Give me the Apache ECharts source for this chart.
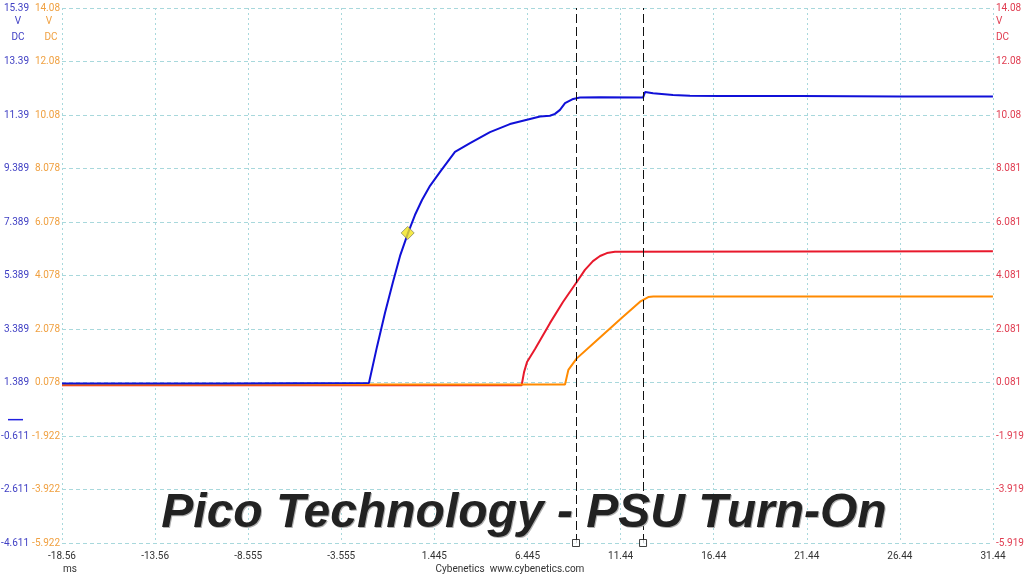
<!DOCTYPE html>
<html><head><meta charset="utf-8">
<script src="https://cdn.jsdelivr.net/npm/echarts@6/dist/echarts.min.js"></script>
<style>html,body{margin:0;padding:0;background:#fff}#c{width:1024px;height:576px}</style>
</head><body><div id="c"></div>
<script>
// Axis extents (ms / V)
const xMin = -18.555;
const blueMin = -4.611;
const orangeMin = -5.922;
const redMin = -5.919;

// Tick labels
const xTicks = ['-18.56','-13.56','-8.555','-3.555','1.445','6.445','11.44','16.44','21.44','26.44','31.44'];
const blueTicks = ['-4.611','-2.611','-0.611','1.389','3.389','5.389','7.389','9.389','11.39','13.39','15.39'];
const orangeTicks = ['-5.922','-3.922','-1.922','0.078','2.078','4.078','6.078','8.078','10.08','12.08','14.08'];
const redTicks = ['-5.919','-3.919','-1.919','0.081','2.081','4.081','6.081','8.081','10.08','12.08','14.08'];

// Channel A (blue), time in ms, volts
const blueT = [-18.555, -10, -2.07, -1.64, -1.21, -0.78, -0.40, 0.03, 0.40, 0.78, 1.21, 1.75, 2.55, 3.36, 4.43, 5.50, 6.58, 7.12, 7.65, 7.92, 8.19, 8.46, 8.90, 9.26, 10.34, 12.65, 12.76, 13.19, 14.26, 15.17, 16.78, 21.08, 26.45, 31.44];
const blueV = [1.35, 1.35, 1.37, 2.72, 3.99, 5.15, 6.12, 6.98, 7.65, 8.21, 8.74, 9.26, 10.01, 10.34, 10.75, 11.05, 11.24, 11.33, 11.36, 11.43, 11.58, 11.83, 11.99, 12.04, 12.05, 12.04, 12.25, 12.20, 12.14, 12.11, 12.10, 12.10, 12.08, 12.08];

// Channel B (orange)
const orangeT = [-18.555, 8.46, 8.64, 9.09, 9.98, 11.50, 12.49, 12.93, 13.20, 31.44];
const orangeV = [0.0, 0.0, 0.55, 0.98, 1.54, 2.49, 3.10, 3.27, 3.29, 3.29];

// Channel C (red)
const redT = [-18.555, 6.13, 6.26, 6.42, 6.85, 7.65, 8.35, 9.09, 9.53, 9.96, 10.34, 10.71, 11.14, 31.44];
const redV = [-0.02, -0.02, 0.47, 0.85, 1.33, 2.30, 3.09, 3.84, 4.29, 4.62, 4.81, 4.92, 4.97, 4.99];

// Marker on blue trace and cursors
const markerT = [0.01];
const markerV = [6.98];
const cursorT = [9.05, 12.65];

const xs = t => +(t - xMin).toFixed(4);
const blueData = blueT.map((t, i) => [xs(t), blueV[i] - blueMin]);
const orangeData = orangeT.map((t, i) => [xs(t), orangeV[i] - orangeMin]);
const redData = redT.map((t, i) => [xs(t), redV[i] - redMin]);
const markerData = markerT.map((t, i) => [xs(t), markerV[i] - blueMin]);
const cursorData = cursorT.map(t => [xs(t), 0]);

const FONT = 'Roboto, "Noto Sans", sans-serif';
const FS = 10;
const gridCol = '#a8d8dc';

const chart = echarts.init(document.getElementById('c'), null, {renderer: 'canvas'});

function yAx(ticks, color, pos, offset, margin, split) {
  return {
    type: 'value', min: 0, max: 20, interval: 2, position: pos, offset: offset,
    axisLine: {show: false}, axisTick: {show: false},
    splitLine: {show: split, lineStyle: {color: gridCol, type: [4, 3], width: 1}},
    axisLabel: {color: color, fontSize: FS, fontFamily: FONT, margin: margin,
      formatter: v => ticks[Math.round(v / 2)]}
  };
}

chart.setOption({
  animation: false,
  backgroundColor: '#fff',
  grid: {left: 62, right: 31, top: 8, bottom: 33, containLabel: false, outerBoundsMode: 'none'},
  xAxis: {
    type: 'value', min: 0, max: 50, interval: 5,
    axisLine: {show: false}, axisTick: {show: false},
    splitLine: {show: true, lineStyle: {color: gridCol, type: [2, 3], width: 1}},
    axisLabel: {color: '#333', fontSize: FS, fontFamily: FONT, margin: 8,
      formatter: v => xTicks[Math.round(v / 5)]}
  },
  yAxis: [
    yAx(blueTicks, '#4040c4', 'left', 30, 3, true),
    yAx(orangeTicks, '#f0a040', 'left', 0, 2, false),
    yAx(redTicks, '#e03c50', 'right', 0, 3, false)
  ],
  series: [
    {type: 'line', yAxisIndex: 2, data: redData, showSymbol: false, symbol: 'none',
      lineStyle: {color: '#e8192c', width: 2}, z: 2},
    {type: 'line', yAxisIndex: 1, data: orangeData, showSymbol: false, symbol: 'none',
      lineStyle: {color: '#ff8a00', width: 2}, z: 3},
    {type: 'line', yAxisIndex: 0, data: blueData, showSymbol: false, symbol: 'none',
      lineStyle: {color: '#1010d8', width: 2}, z: 4,
      markLine: {symbol: 'none', silent: true, label: {show: false},
        lineStyle: {color: '#111', type: [9, 4], width: 1},
        data: cursorData.map(d => ({xAxis: d[0]}))}},
    {type: 'scatter', yAxisIndex: 0, data: markerData, symbol: 'diamond', symbolSize: 13,
      itemStyle: {color: '#f2e41a', borderColor: '#8a8a60', borderWidth: 1}, z: 6},
    {type: 'scatter', yAxisIndex: 0, data: cursorData, symbol: 'rect', symbolSize: 7, clip: false,
      itemStyle: {color: '#fff', borderColor: '#111', borderWidth: 1}, z: 6}
  ]
});

const zeroY = chart.convertToPixel({yAxisIndex: 0}, 0 - blueMin);
const TITLE_FONT = 'italic bold 48px "Liberation Sans", Arial, sans-serif';
const sm = FS + 'px ' + FONT;

chart.setOption({
  graphic: [
    {type: 'text', x: 18, y: 21, style: {text: 'V', fill: '#4040c4', font: sm, align: 'center', verticalAlign: 'middle'}},
    {type: 'text', x: 18, y: 37, style: {text: 'DC', fill: '#4040c4', font: sm, align: 'center', verticalAlign: 'middle'}},
    {type: 'text', x: 49, y: 21, style: {text: 'V', fill: '#f0a040', font: sm, align: 'center', verticalAlign: 'middle'}},
    {type: 'text', x: 51, y: 37, style: {text: 'DC', fill: '#f0a040', font: sm, align: 'center', verticalAlign: 'middle'}},
    {type: 'text', x: 996, y: 21, style: {text: 'V', fill: '#e03c50', font: sm, align: 'left', verticalAlign: 'middle'}},
    {type: 'text', x: 996, y: 37, style: {text: 'DC', fill: '#e03c50', font: sm, align: 'left', verticalAlign: 'middle'}},
    {type: 'line', shape: {x1: 8, y1: zeroY, x2: 23, y2: zeroY}, style: {stroke: '#2020e0', lineWidth: 1.5}},
    {type: 'text', x: 63, y: 569, style: {text: 'ms', fill: '#333', font: sm, align: 'left', verticalAlign: 'middle'}},
    {type: 'text', x: 510, y: 569, style: {text: 'Cybenetics  www.cybenetics.com', fill: '#333', font: sm, align: 'center', verticalAlign: 'middle'}},
    {type: 'text', x: 525, y: 515, z: 10, style: {text: 'Pico Technology - PSU Turn-On', fill: '#b0b0b0',
      font: TITLE_FONT, align: 'center', verticalAlign: 'middle'}},
    {type: 'text', x: 524, y: 514, z: 11, style: {text: 'Pico Technology - PSU Turn-On', fill: '#222',
      font: TITLE_FONT, align: 'center', verticalAlign: 'middle',
      shadowColor: 'rgba(0,0,0,0.2)', shadowBlur: 2, shadowOffsetX: 0, shadowOffsetY: 1}}
  ]
});
</script>
</body></html>
